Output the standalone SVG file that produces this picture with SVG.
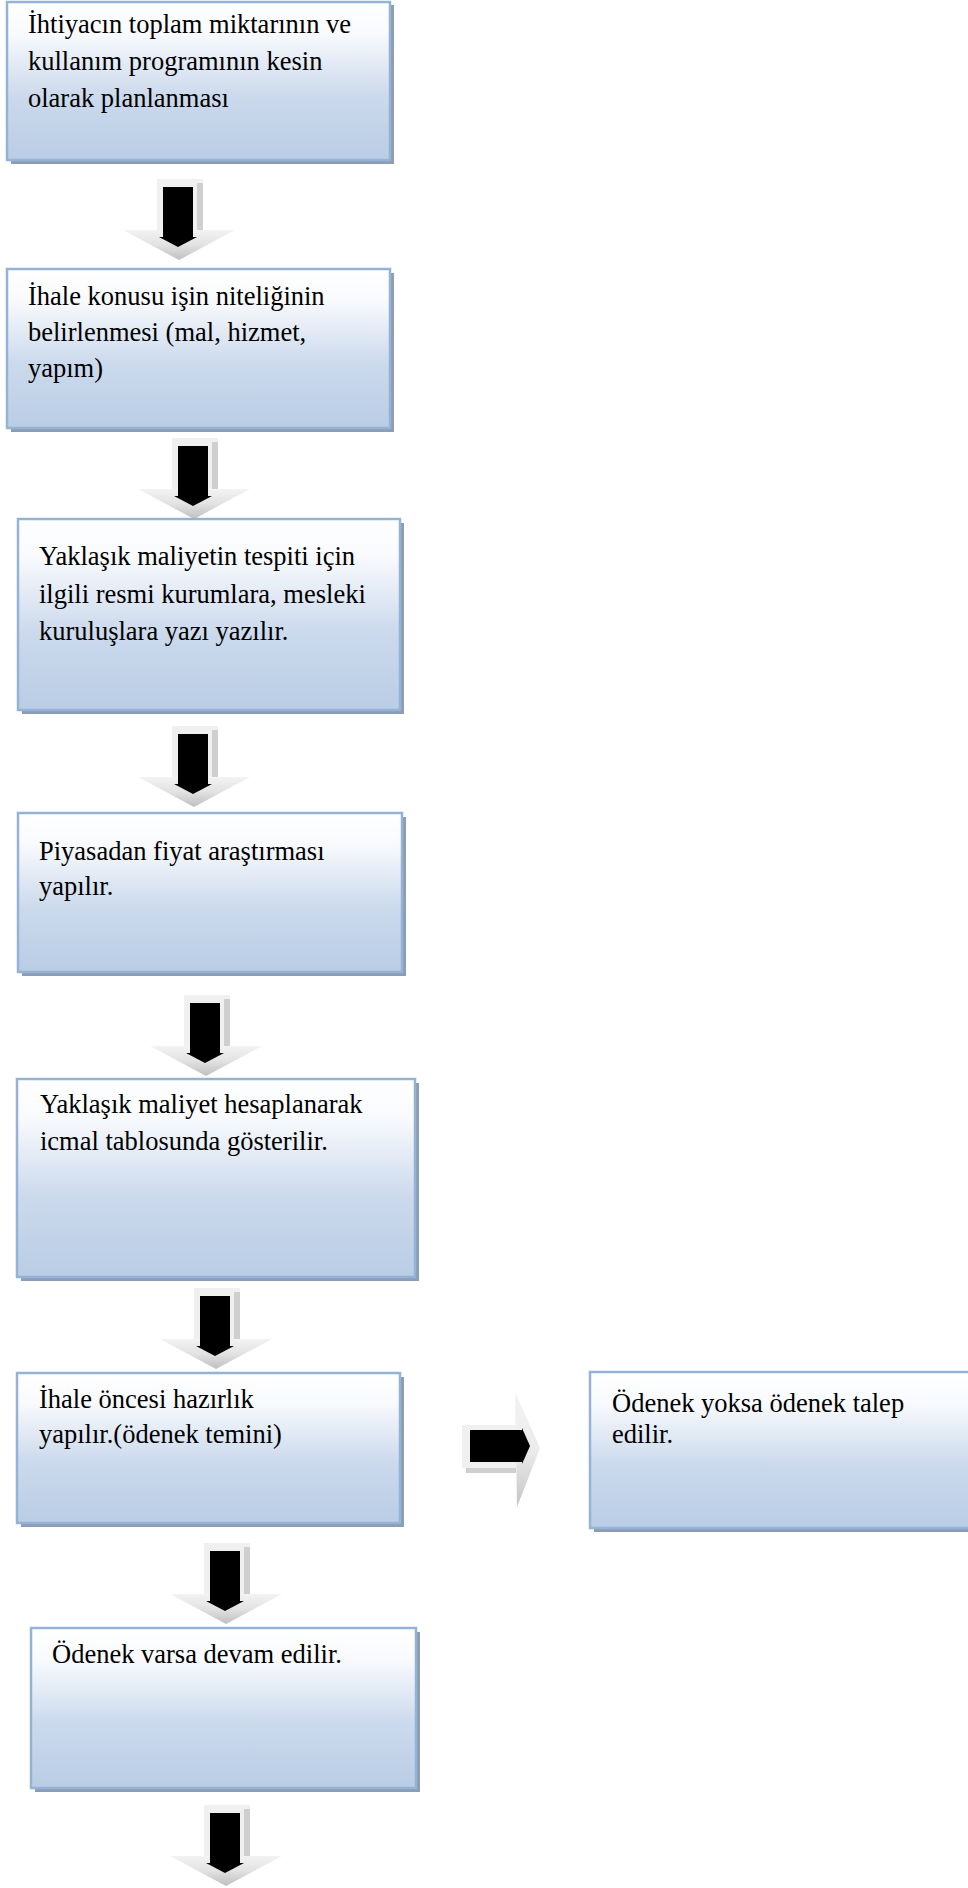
<svg xmlns="http://www.w3.org/2000/svg" width="968" height="1888" viewBox="0 0 968 1888">
<defs>
<linearGradient id="boxFill" x1="0" y1="0" x2="0" y2="1">
<stop offset="0" stop-color="#ffffff"/>
<stop offset="0.2" stop-color="#f8fafd"/>
<stop offset="0.6" stop-color="#cbd9ec"/>
<stop offset="1" stop-color="#b9cde5"/>
</linearGradient>
<linearGradient id="headFill" x1="0" y1="0" x2="0" y2="1">
<stop offset="0" stop-color="#f3f3f3"/>
<stop offset="0.5" stop-color="#e2e2e2"/>
<stop offset="1" stop-color="#bfbfbf"/>
</linearGradient>
<linearGradient id="headFillR" x1="0" y1="0" x2="0" y2="1">
<stop offset="0" stop-color="#f3f3f3"/>
<stop offset="0.5" stop-color="#ececec"/>
<stop offset="1" stop-color="#c4c4c4"/>
</linearGradient>
<g id="downArrow">
<rect x="34" y="0" width="46" height="52" fill="#f0f0f0"/>
<rect x="74" y="4" width="6" height="48" fill="#cfcfcf"/>
<polygon points="0,51 112,51 56,81" fill="url(#headFill)"/>
<rect x="40" y="8" width="30" height="51" fill="#000"/>
<polygon points="36,58 74,58 55,68" fill="#000"/>
</g>
</defs>
<style>
.shadow{fill:#8e9db4}
.box{fill:url(#boxFill);stroke:#95b3d7;stroke-width:2.5}
.t{font-family:"Liberation Serif","Times New Roman",serif;font-size:26.5px;fill:#000}
</style>
<g id="connectors">
<use href="#downArrow" transform="translate(123,179)"/>
<use href="#downArrow" transform="translate(138,438)"/>
<use href="#downArrow" transform="translate(138,726)"/>
<use href="#downArrow" transform="translate(150,995)"/>
<use href="#downArrow" transform="translate(160,1288)"/>
<use href="#downArrow" transform="translate(170,1543)"/>
<use href="#downArrow" transform="translate(170,1805)"/>
<g id="sideArrow">
<rect x="462" y="1425" width="54" height="43" fill="#f0f0f0"/>
<rect x="466" y="1468" width="50" height="5" fill="#cfcfcf"/>
<polygon points="515,1392 540,1448 517,1507" fill="url(#headFillR)"/>
<rect x="470" y="1430" width="52" height="32" fill="#000"/>
<polygon points="522,1428 530,1446 522,1464" fill="#000"/>
</g>
</g>
<g id="node1">
<rect class="shadow" x="11" y="5" width="383" height="159"/>
<rect class="box" x="7" y="2" width="383" height="158"/>
<text class="t" x="28" y="33">İhtiyacın toplam miktarının ve</text>
<text class="t" x="28" y="70">kullanım programının kesin</text>
<text class="t" x="28" y="107">olarak planlanması</text>
</g>
<g id="node2">
<rect class="shadow" x="11" y="273" width="383" height="159"/>
<rect class="box" x="7" y="269" width="383" height="159"/>
<text class="t" x="28" y="305">İhale konusu işin niteliğinin</text>
<text class="t" x="28" y="341">belirlenmesi (mal, hizmet,</text>
<text class="t" x="28" y="377">yapım)</text>
</g>
<g id="node3">
<rect class="shadow" x="22" y="523" width="382" height="191"/>
<rect class="box" x="18" y="519" width="382" height="191"/>
<text class="t" x="39" y="565">Yaklaşık maliyetin tespiti için</text>
<text class="t" x="39" y="603">ilgili resmi kurumlara, mesleki</text>
<text class="t" x="39" y="640">kuruluşlara yazı yazılır.</text>
</g>
<g id="node4">
<rect class="shadow" x="22" y="817" width="384" height="159"/>
<rect class="box" x="18" y="813" width="384" height="159"/>
<text class="t" x="39" y="860">Piyasadan fiyat araştırması</text>
<text class="t" x="39" y="895">yapılır.</text>
</g>
<g id="node5">
<rect class="shadow" x="21" y="1083" width="398" height="198"/>
<rect class="box" x="17" y="1079" width="398" height="198"/>
<text class="t" x="40" y="1113">Yaklaşık maliyet hesaplanarak</text>
<text class="t" x="40" y="1150">icmal tablosunda gösterilir.</text>
</g>
<g id="node6">
<rect class="shadow" x="21" y="1377" width="383" height="150"/>
<rect class="box" x="17" y="1373" width="383" height="150"/>
<text class="t" x="39" y="1408">İhale öncesi hazırlık</text>
<text class="t" x="39" y="1443">yapılır.(ödenek temini)</text>
</g>
<g id="node7">
<rect class="shadow" x="594" y="1376" width="390" height="156"/>
<rect class="box" x="590" y="1372" width="390" height="156"/>
<text class="t" x="612" y="1412">Ödenek yoksa ödenek talep</text>
<text class="t" x="612" y="1443">edilir.</text>
</g>
<g id="node8">
<rect class="shadow" x="35" y="1632" width="385" height="160"/>
<rect class="box" x="31" y="1628" width="385" height="160"/>
<text class="t" x="52" y="1663">Ödenek varsa devam edilir.</text>
</g>
</svg>
